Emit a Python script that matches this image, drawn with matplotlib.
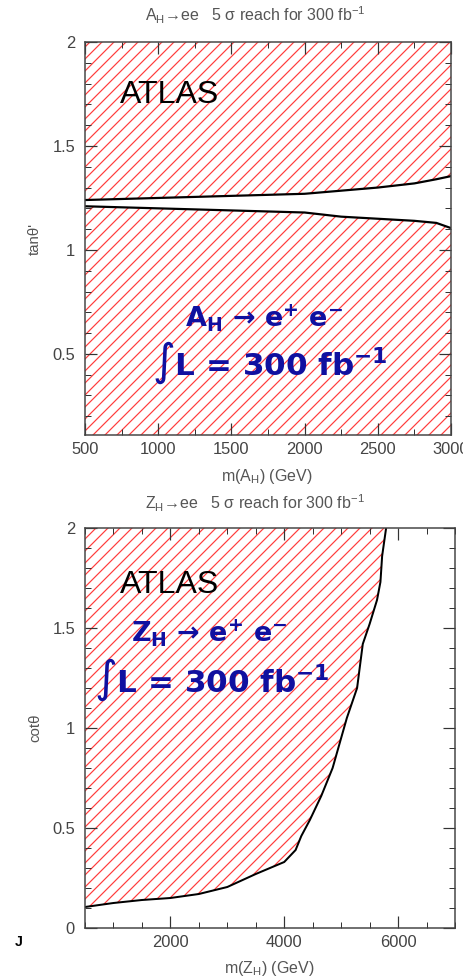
import numpy as np
import matplotlib
matplotlib.use('Agg')
import matplotlib.pyplot as plt
from matplotlib.ticker import MultipleLocator, FuncFormatter

plt.rcParams['font.family'] = ['Liberation Sans', 'DejaVu Sans']
plt.rcParams['hatch.linewidth'] = 1.2

# A_H -> ee : gap between the two reach curves (tan theta')
ah_mass = [500, 750, 1000, 1250, 1500, 1750, 2000, 2250, 2500, 2750, 2900, 3000]
ah_upper = [1.24, 1.245, 1.25, 1.255, 1.26, 1.265, 1.27, 1.285, 1.30, 1.32, 1.34, 1.355]
ah_lower = [1.21, 1.205, 1.20, 1.195, 1.19, 1.185, 1.18, 1.16, 1.15, 1.14, 1.13, 1.105]

# Z_H -> ee : reach contour (cot theta)
zh_mass = [500, 1000, 1500, 2000, 2500, 3000, 3500, 4000, 4200, 4300, 4450, 4650,
           4850, 4950, 5100, 5280, 5380, 5500, 5630, 5690, 5720, 5790]
zh_cot = [0.105, 0.125, 0.14, 0.15, 0.17, 0.205, 0.27, 0.33, 0.39, 0.46, 0.54, 0.66,
          0.80, 0.90, 1.05, 1.20, 1.42, 1.52, 1.64, 1.73, 1.86, 2.0]

W, H, DPI = 463, 980, 72
fig = plt.figure(figsize=(W / DPI, H / DPI), dpi=DPI)

def px_axes(left, top, right, bottom):
    return fig.add_axes([left / W, 1 - bottom / H, (right - left) / W, (bottom - top) / H])

def style_axes(ax, xmaj, xmin, ymaj, ymin):
    ax.xaxis.set_major_locator(MultipleLocator(xmaj))
    ax.xaxis.set_minor_locator(MultipleLocator(xmin))
    ax.yaxis.set_major_locator(MultipleLocator(ymaj))
    ax.yaxis.set_minor_locator(MultipleLocator(ymin))
    ax.tick_params(which='both', direction='in', top=True, right=True,
                   colors='#333333', labelcolor='#444444', labelsize=16.5)
    ax.tick_params(which='major', length=12, width=1.2)
    ax.tick_params(which='minor', length=6, width=1.0)
    ax.tick_params(axis='x', pad=7)
    ax.tick_params(axis='y', pad=10)
    ax.yaxis.set_major_formatter(FuncFormatter(lambda v, p: f'{v:g}'))
    for s in ax.spines.values():
        s.set_color('#444444')
        s.set_linewidth(1.5)

blue = '#1010a0'
grey = '#555555'
hatch_kw = dict(facecolor='none', edgecolor=(1.0, 0.05, 0.05, 0.8), linewidth=0, hatch='//')

def ptext(x, y, s, **kw):
    # place a text at picture pixel coordinates
    return fig.text(x / W, 1 - y / H, s, **kw)

# ---------------- top panel ----------------
ax1 = px_axes(85, 42, 451, 435)
ax1.set_xlim(500, 3000)
ax1.set_ylim(0.11, 2)
ax1.fill_between(ah_mass, ah_upper, 2, **hatch_kw)
ax1.fill_between(ah_mass, 0.11, ah_lower, **hatch_kw)
ax1.plot(ah_mass, ah_upper, color='black', lw=2.2)
ax1.plot(ah_mass, ah_lower, color='black', lw=2.2)
style_axes(ax1, 500, 250, 0.5, 0.1)
ax1.set_ylabel("tanθ'", fontsize=15, color=grey, labelpad=10)
ptext(120, 95, 'ATLAS', ha='left', va='center', fontsize=32)
ptext(264, 318, r'A$_\mathbf{H}$ → e$^\mathbf{+}$ e$^\mathbf{-}$', fontsize=27,
      fontweight='bold', color=blue, ha='center', va='center', family='DejaVu Sans')
ptext(270, 363, r'∫$\mathit{\mathbf{L}}$ = 300 fb$^\mathbf{-1}$', fontsize=31,
      fontweight='bold', color=blue, ha='center', va='center', family='DejaVu Sans')
ptext(255, 15, r'A$_\mathregular{H}$→ee   5 σ reach for 300 fb$^\mathregular{-1}$',
      ha='center', va='center', fontsize=16, color=grey)
ptext(267, 477, r'm(A$_\mathregular{H}$) (GeV)', ha='center', va='center',
      fontsize=16, color=grey)

# ---------------- bottom panel ----------------
ax2 = px_axes(85, 528, 455, 928)
ax2.set_xlim(500, 7000)
ax2.set_ylim(0, 2)
ax2.fill(list(zh_mass) + [500], list(zh_cot) + [2], **hatch_kw)
ax2.plot(zh_mass, zh_cot, color='black', lw=2.0)
style_axes(ax2, 2000, 500, 0.5, 0.1)
ax2.set_ylabel('cotθ', fontsize=15, color=grey, labelpad=10)
ptext(255, 503, r'Z$_\mathregular{H}$→ee   5 σ reach for 300 fb$^\mathregular{-1}$',
      ha='center', va='center', fontsize=16, color=grey)
ptext(269, 968, r'm(Z$_\mathregular{H}$) (GeV)', ha='center', va='center',
      fontsize=16, color=grey)
ptext(120, 585, 'ATLAS', ha='left', va='center', fontsize=32)
ptext(209, 633, r'Z$_\mathbf{H}$ → e$^\mathbf{+}$ e$^\mathbf{-}$', fontsize=27,
      fontweight='bold', color=blue, ha='center', va='center', family='DejaVu Sans')
ptext(212, 680, r'∫$\mathit{\mathbf{L}}$ = 300 fb$^\mathbf{-1}$', fontsize=31,
      fontweight='bold', color=blue, ha='center', va='center', family='DejaVu Sans')
ptext(19, 942, 'J', ha='center', va='center', fontsize=14, fontweight='bold')

fig.savefig('out.png', dpi=DPI)
